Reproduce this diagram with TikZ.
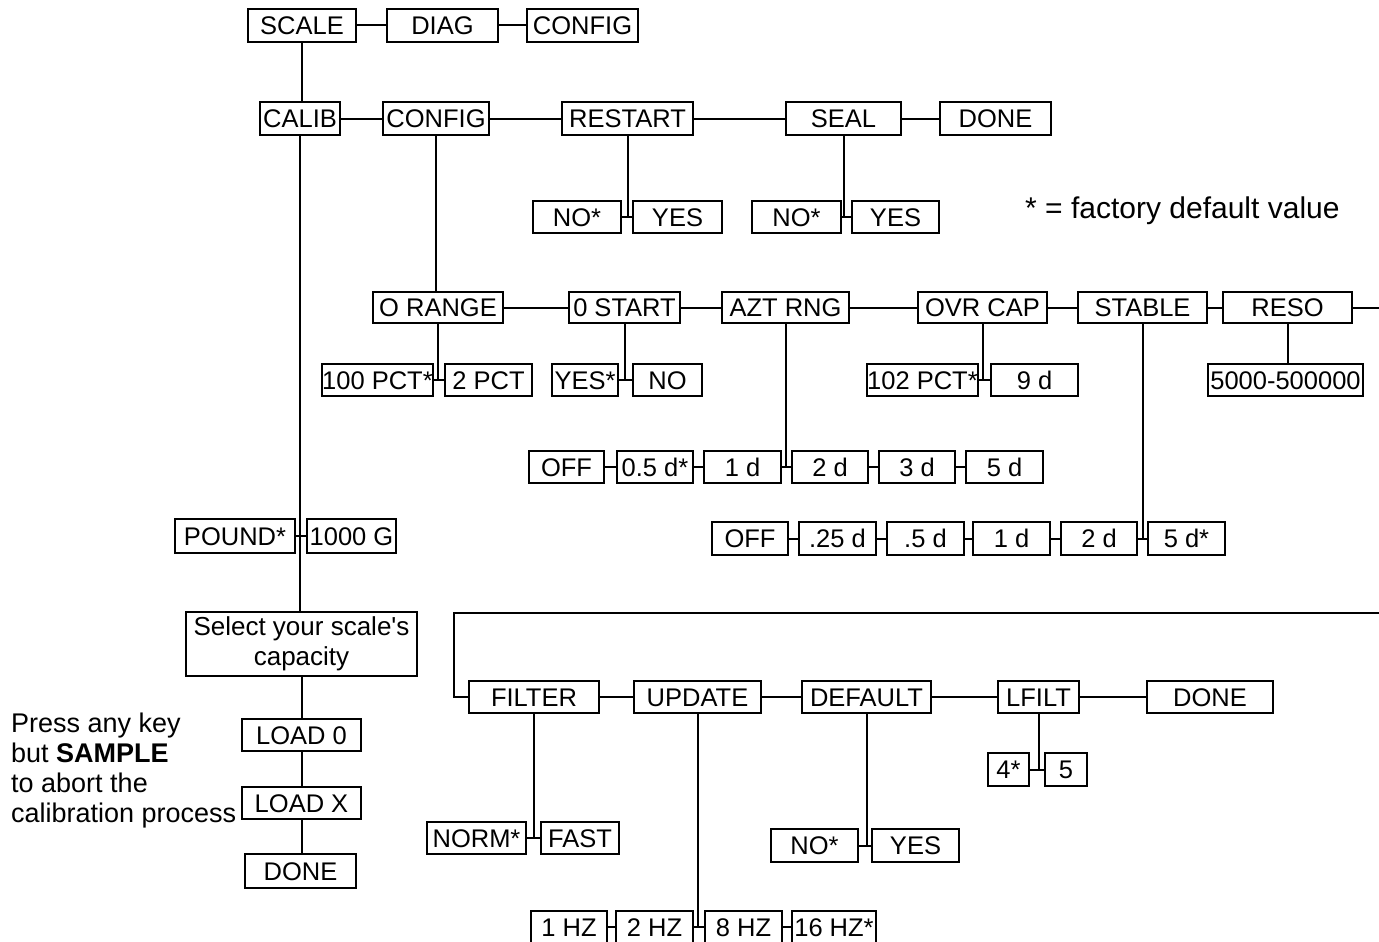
\documentclass[tikz,border=0pt]{standalone}
\usepackage{fontspec}
\setmainfont{Liberation Sans}[Ligatures=TeXOff]
\begin{document}
\begin{tikzpicture}[x=1pt,y=-1pt,
  bx/.style={draw,line width=2pt,inner sep=0pt,outer sep=0pt,
    font=\fontsize{25.5}{30}\selectfont,text height=18.3pt,text depth=0pt},
  bigbx/.style={draw,line width=2pt,inner sep=0pt,outer sep=0pt,
    font=\fontsize{26}{30}\selectfont,align=center},
  ln/.style={line width=2pt},
  note/.style={inner sep=0pt,anchor=base west,font=\fontsize{27}{30}\selectfont}]
\newcommand\bx[6]{\node[bx,minimum width={#4-#2},minimum height={#5-#3}] (#1) at ({(#2+#4)/2},{(#3+#5)/2}) {#6};}
\useasboundingbox (0,0) rectangle (1379,942);
% row 1
\bx{scale}{248}{9}{356}{42}{SCALE}
\bx{diag}{387}{9}{498}{42}{DIAG}
\bx{cfgtop}{527}{9}{638}{42}{CONFIG}
% row 2
\bx{calib}{260}{102}{340}{135}{CALIB}
\bx{config}{383}{102}{489}{135}{CONFIG}
\bx{restart}{562}{102}{693}{135}{RESTART}
\bx{seal}{786}{102}{901}{135}{SEAL}
\bx{doneA}{940}{102}{1051}{135}{DONE}
% restart / seal options
\bx{rno}{533}{201}{621}{233}{NO*}
\bx{ryes}{633}{201}{722}{233}{YES}
\bx{sno}{752}{201}{841}{233}{NO*}
\bx{syes}{852}{201}{939}{233}{YES}
\node[inner sep=0pt,anchor=base west,font=\fontsize{30}{33}\selectfont] (legend) at (1025,218) {* = factory default value};
% row 3
\bx{orange}{373}{292}{503}{323}{O RANGE}
\bx{ostart}{569}{292}{680}{323}{0 START}
\bx{azt}{722}{292}{849}{323}{AZT RNG}
\bx{ovr}{918}{292}{1047}{323}{OVR CAP}
\bx{stable}{1078}{292}{1207}{323}{STABLE}
\bx{reso}{1223}{292}{1352}{323}{RESO}
% row 3 options
\bx{pctA}{323}{364}{432}{396}{100 PCT*}
\bx{pctB}{445}{364}{532}{396}{2 PCT}
\bx{ysA}{552}{364}{618}{396}{YES*}
\bx{noA}{633}{364}{702}{396}{NO}
\bx{pctC}{868}{364}{977}{396}{102 PCT*}
\bx{dnine}{991}{364}{1078}{396}{9 d}
\bx{res}{1208}{364}{1363}{396}{5000-500000}
% AZT RNG options
\bx{aoff}{529}{451}{604}{483}{OFF}
\bx{aha}{617}{451}{693}{483}{0.5 d*}
\bx{aone}{704}{451}{781}{483}{1 d}
\bx{atwo}{792}{451}{868}{483}{2 d}
\bx{athree}{879}{451}{955}{483}{3 d}
\bx{afive}{966}{451}{1043}{483}{5 d}
% STABLE options
\bx{soff}{712}{522}{788}{555}{OFF}
\bx{sq}{799}{522}{876}{555}{.25 d}
\bx{sh}{887}{522}{964}{555}{.5 d}
\bx{sone}{973}{522}{1050}{555}{1 d}
\bx{stwo}{1061}{522}{1137}{555}{2 d}
\bx{sfive}{1148}{522}{1225}{555}{5 d*}
% calibration column
\bx{pound}{175}{519}{295}{553}{POUND*}
\bx{gram}{307}{519}{396}{553}{1000 G}
\node[bigbx,minimum width=231,minimum height=64] (select) at (301.5,644) {Select your scale's\\capacity};
\bx{loadz}{242}{719}{361}{751}{LOAD 0}
\bx{loadx}{242}{787}{361}{819}{LOAD X}
\bx{doneB}{245}{854}{356}{888}{DONE}
\node[note] (t1) at (11,732) {Press any key};
\node[note] (t2) at (11,762) {but \textbf{SAMPLE}};
\node[note] (t3) at (11,792) {to abort the};
\node[note] (t4) at (11,822) {calibration process};
% bottom row
\bx{filter}{469}{681}{599}{713}{FILTER}
\bx{update}{634}{681}{761}{713}{UPDATE}
\bx{default}{802}{681}{931}{713}{DEFAULT}
\bx{lfilt}{998}{681}{1079}{713}{LFILT}
\bx{doneC}{1147}{681}{1273}{713}{DONE}
\bx{lfour}{988}{753}{1029}{786}{4*}
\bx{lfive}{1045}{753}{1087}{786}{5}
\bx{norm}{427}{822}{526}{854}{NORM*}
\bx{fast}{541}{822}{619}{854}{FAST}
\bx{dno}{771}{829}{858}{862}{NO*}
\bx{dyes}{872}{829}{959}{862}{YES}
\bx{hone}{531}{911}{607}{943}{1 HZ}
\bx{htwo}{616}{911}{693}{943}{2 HZ}
\bx{height}{705}{911}{782}{943}{8 HZ}
\bx{hsixteen}{792}{911}{876}{943}{16 HZ*}
% connectors
\draw[ln] (scale) -- (diag);
\draw[ln] (diag) -- (cfgtop);
\draw[ln] (scale.south) -- (scale.south |- calib.north);
\draw[ln] (calib) -- (config);
\draw[ln] (config) -- (restart);
\draw[ln] (restart) -- (seal);
\draw[ln] (seal) -- (doneA);
\draw[ln] (restart.south) -- (restart.south |- rno.east);
\draw[ln] (rno) -- (ryes);
\draw[ln] (seal.south) -- (seal.south |- sno.east);
\draw[ln] (sno) -- (syes);
\draw[ln] (config.south) -- (config.south |- orange.north);
\draw[ln] (orange) -- (ostart);
\draw[ln] (ostart) -- (azt);
\draw[ln] (azt) -- (ovr);
\draw[ln] (ovr) -- (stable);
\draw[ln] (stable) -- (reso);
\draw[ln] (orange.south) -- (orange.south |- pctA.east);
\draw[ln] (pctA) -- (pctB);
\draw[ln] (ostart.south) -- (ostart.south |- ysA.east);
\draw[ln] (ysA) -- (noA);
\draw[ln] (ovr.south) -- (ovr.south |- pctC.east);
\draw[ln] (pctC) -- (dnine);
\draw[ln] (reso.south) -- (reso.south |- res.north);
\draw[ln] (azt.south) -- (azt.south |- aone.east);
\draw[ln] (aoff) -- (aha);
\draw[ln] (aha) -- (aone);
\draw[ln] (aone) -- (atwo);
\draw[ln] (atwo) -- (athree);
\draw[ln] (athree) -- (afive);
\draw[ln] (stable.south) -- (stable.south |- stwo.east);
\draw[ln] (soff) -- (sq);
\draw[ln] (sq) -- (sh);
\draw[ln] (sh) -- (sone);
\draw[ln] (sone) -- (stwo);
\draw[ln] (stwo) -- (sfive);
\draw[ln] (calib.south) -- (calib.south |- select.north);
\draw[ln] (pound) -- (gram);
\draw[ln] (select) -- (select |- loadz.north);
\draw[ln] (loadz) -- (loadx);
\draw[ln] (loadx.south) -- (loadx.south |- doneB.north);
\coordinate (outR) at (1390,308);
\draw[ln] (reso.east) -- (reso.east -| outR);
\coordinate (loopR) at (1390,613);
\coordinate (loopL) at (454,613);
\draw[ln] (loopR) -- (loopL) |- (filter.west);
\draw[ln] (filter) -- (update);
\draw[ln] (update) -- (default);
\draw[ln] (default) -- (lfilt);
\draw[ln] (lfilt) -- (doneC);
\draw[ln] (lfilt.south) -- (lfilt.south |- lfour.east);
\draw[ln] (lfour) -- (lfive);
\draw[ln] (filter.south) -- (filter.south |- norm.east);
\draw[ln] (norm) -- (fast);
\draw[ln] (default.south) -- (default.south |- dno.east);
\draw[ln] (dno) -- (dyes);
\draw[ln] (update.south) -- (update.south |- htwo.east);
\draw[ln] (hone) -- (htwo);
\draw[ln] (htwo) -- (height);
\draw[ln] (height) -- (hsixteen);
\end{tikzpicture}
\end{document}
